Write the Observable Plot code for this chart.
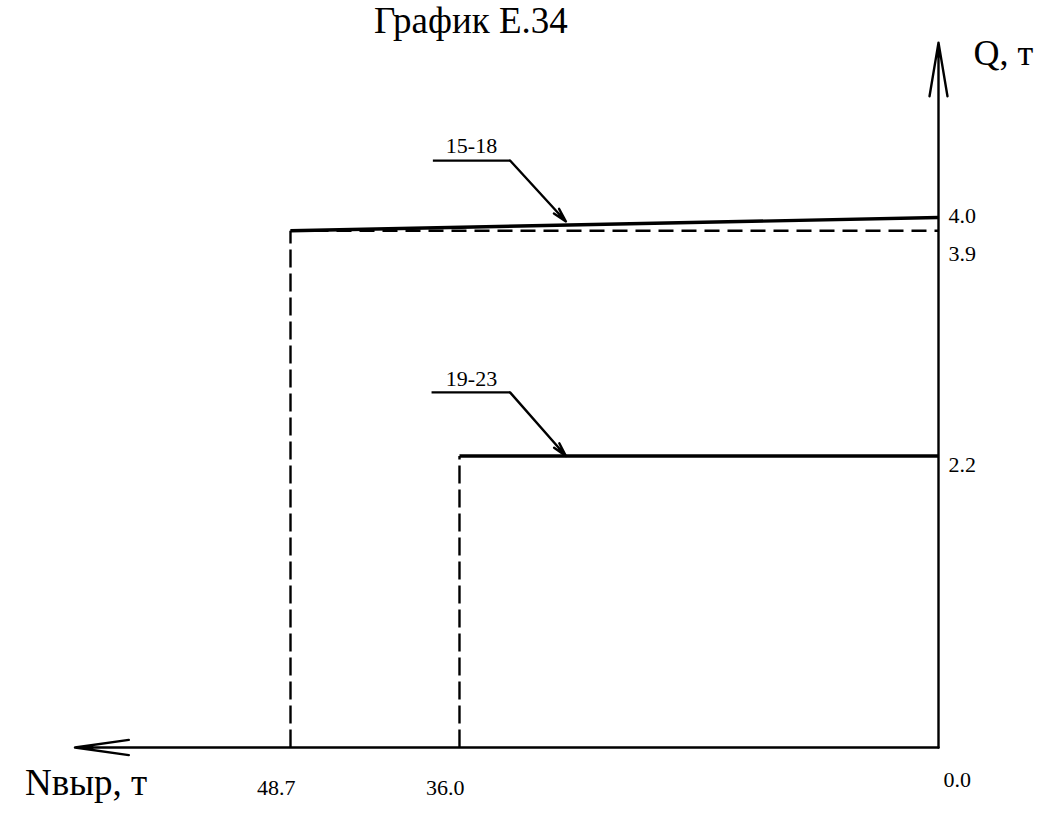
<!DOCTYPE html>
<html>
<head>
<meta charset="utf-8">
<script src="https://cdn.jsdelivr.net/npm/d3@7"></script>
<script src="https://cdn.jsdelivr.net/npm/@observablehq/plot@0.6"></script>
<style>
  html, body { margin: 0; padding: 0; background: #fff; }
  #wrap { position: relative; width: 1050px; height: 814px; }
  #title { position: absolute; left: 374px; top: 0px; font-family: "Liberation Serif", serif; font-size: 37px; color: #000; line-height: 42px; white-space: nowrap; }
  svg { display: block; }
</style>
</head>
<body>
<div id="wrap">
  <div id="title">График Е.34</div>
</div>
<script>
// ---- data ----
const series = ["15-18", "19-23"];
const nMax = [48.7, 36.0];          // N at left end of each line
const qLeft = [3.9, 2.2];           // Q at left end (solid)
const qRight = [4.0, 2.2];          // Q at N = 0 (solid)
const qDashed = [3.9, 2.2];         // dashed level
const xTicks = [48.7, 36.0];
const xTickLabels = ["48.7", "36.0"];
const zeroLabel = "0.0";
const yTicks = [4.0, 3.9, 2.2];
const yTickLabels = ["4.0", "3.9", "2.2"];
const xAxisEnd = 64.9;  // length of N axis arrow (data units)
const yAxisEnd = 5.32;  // length of Q axis arrow (data units)
// leader annotations (data units): label anchor, shoulder start/end, tip
const leadLabelN = [35.1, 35.1];
const leadLabelQ = [4.54, 2.785];
const leadStartN = [38.0, 38.1];
const leadBendN = [32.2, 32.2];
const leadBendQ = [4.43, 2.68];
const leadTipN = [28.0, 28.0];
const leadTipQ = [3.97, 2.2];

const idx = series.map((_, i) => i);
const serif = "Liberation Serif, Times New Roman, serif";

const chart = Plot.plot({
  width: 1050,
  height: 814,
  margin: 0,
  style: { fontFamily: serif, background: "#fff", color: "#000", overflow: "visible" },
  x: { domain: [0, 48.7], range: [938, 290], axis: null },
  y: { domain: [0, 4], range: [747, 217], axis: null },
  marks: [
    // dashed verticals
    Plot.link(idx, { x1: i => nMax[i], y1: 0, x2: i => nMax[i], y2: i => qDashed[i], stroke: "#000", strokeWidth: 2.4, strokeDasharray: "18,6" }),
    // dashed horizontal (only where it differs from solid)
    Plot.link(idx.filter(i => qDashed[i] !== qRight[i] || qDashed[i] !== qLeft[i]), { x1: i => nMax[i], y1: i => qDashed[i], x2: 0, y2: i => qDashed[i], stroke: "#000", strokeWidth: 2.4, strokeDasharray: "15,8" }),
    // solid lines
    Plot.link(idx, { x1: i => nMax[i], y1: i => qLeft[i], x2: 0, y2: i => qRight[i], stroke: "#000", strokeWidth: 3.4 }),
    // axes
    Plot.arrow([0], { x1: 0, y1: 0, x2: xAxisEnd, y2: 0, stroke: "#000", strokeWidth: 2.4, headAngle: 16, headLength: 34, bend: 0 }),
    Plot.arrow([0], { x1: 0, y1: 0, x2: 0, y2: yAxisEnd, stroke: "#000", strokeWidth: 2.4, headAngle: 19, headLength: 34, bend: 0 }),
    // leaders
    Plot.link(idx, { x1: i => leadStartN[i], y1: i => leadBendQ[i], x2: i => leadBendN[i], y2: i => leadBendQ[i], stroke: "#000", strokeWidth: 2.2 }),
    Plot.arrow(idx, { x1: i => leadBendN[i], y1: i => leadBendQ[i], x2: i => leadTipN[i], y2: i => leadTipQ[i], stroke: "#000", strokeWidth: 2.4, headAngle: 28, headLength: 9, bend: 0 }),
    Plot.text(idx, { x: i => leadLabelN[i], y: i => leadLabelQ[i], text: i => series[i], fontSize: 22, textAnchor: "middle", fill: "#000" }),
    // x tick labels
    Plot.text(xTicks, { x: d => d, y: 0, text: (d, i) => xTickLabels[i], fontSize: 22, textAnchor: "end", dx: 5, dy: 40, fill: "#000" }),
    Plot.text([0], { x: 0, y: 0, text: [zeroLabel], fontSize: 22, textAnchor: "start", dx: 5, dy: 32, fill: "#000" }),
    // y tick labels
    Plot.text([0], { x: 0, y: yTicks[0], text: [yTickLabels[0]], fontSize: 22, textAnchor: "start", dx: 10, dy: -2, fill: "#000" }),
    Plot.text([0], { x: 0, y: yTicks[1], text: [yTickLabels[1]], fontSize: 22, textAnchor: "start", dx: 10, dy: 23, fill: "#000" }),
    Plot.text([0], { x: 0, y: yTicks[2], text: [yTickLabels[2]], fontSize: 22, textAnchor: "start", dx: 10, dy: 9, fill: "#000" }),
    // axis names
    Plot.text([0], { x: xAxisEnd, y: 0, text: ["Nвыр, т"], fontSize: 37, textAnchor: "start", dx: -50, dy: 36, fill: "#000" }),
    Plot.text([0], { x: 0, y: yAxisEnd, text: ["Q, т"], fontSize: 36, textAnchor: "start", dx: 35, dy: 11, fill: "#000" })
  ]
});
document.getElementById("wrap").appendChild(chart);
</script>
</body>
</html>
